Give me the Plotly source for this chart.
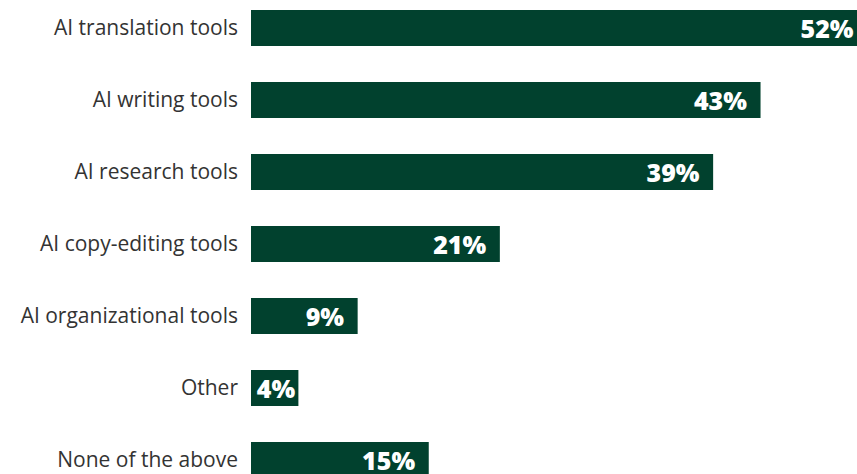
import plotly.graph_objects as go

# Survey results: share of respondents using each kind of AI tool
categories = [
    "AI translation tools",
    "AI writing tools",
    "AI research tools",
    "AI copy-editing tools",
    "AI organizational tools",
    "Other",
    "None of the above",
]
shares = [52, 43, 39, 21, 9, 4, 15]
value_labels = [f"{v}%" for v in shares]

BAR_GREEN = "#01412E"

# Wide bars get a little breathing room after the label; the tiniest bar
# keeps its label snug so it still fits inside.
bar_text = [lbl + ("\u00a0\u2009" if v >= 6 else "") for lbl, v in zip(value_labels, shares)]

fig = go.Figure(
    go.Bar(
        x=shares,
        y=categories,
        orientation="h",
        marker=dict(color=BAR_GREEN, line=dict(width=0)),
        text=bar_text,
        textposition="inside",
        insidetextanchor="end",
        textangle=0,
        insidetextfont=dict(family="Open Sans", size=25, color="white", weight=800),
        constraintext="none",
        cliponaxis=True,
        hoverinfo="skip",
    )
)

fig.update_layout(
    width=857,
    height=474,
    margin=dict(l=251, r=0, t=0, b=0),
    paper_bgcolor="white",
    plot_bgcolor="white",
    bargap=0.5,
    showlegend=False,
)

fig.update_xaxes(
    range=[0, 51.14],
    visible=False,
    showgrid=False,
    zeroline=False,
    fixedrange=True,
)
fig.update_yaxes(
    categoryorder="array",
    categoryarray=categories,
    range=[6.194, -0.389],
    showgrid=False,
    zeroline=False,
    showline=False,
    ticks="",
    ticklabelstandoff=12,
    tickfont=dict(family="Open Sans", size=21, color="#333333"),
    fixedrange=True,
)

fig.write_html("out.html")
